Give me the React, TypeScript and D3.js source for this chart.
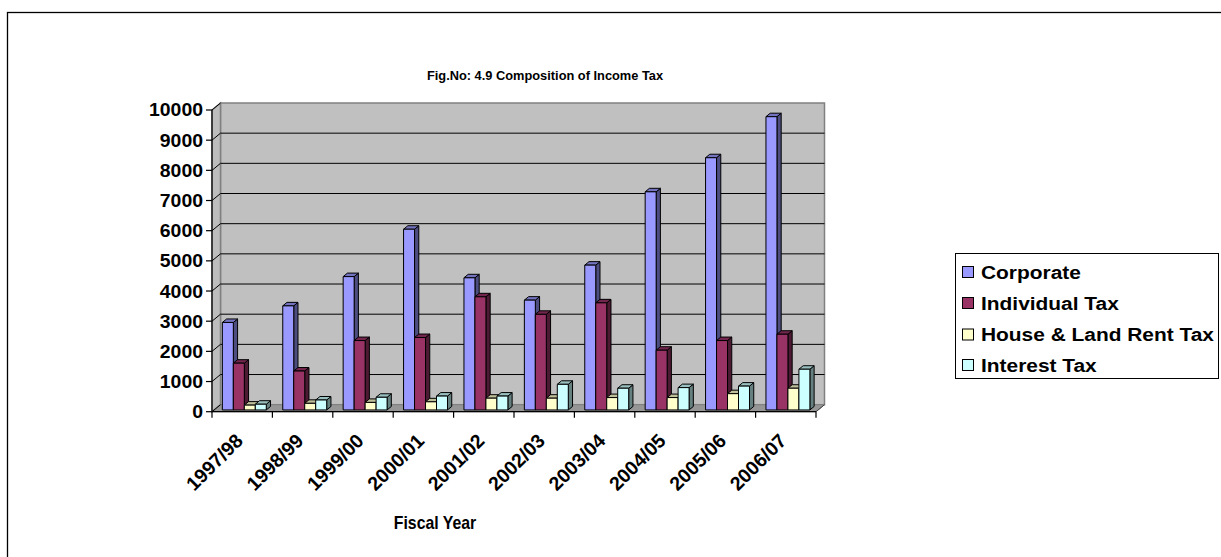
import React from "react";
import * as d3 from "d3";

const years = ["1997/98", "1998/99", "1999/00", "2000/01", "2001/02", "2002/03", "2003/04", "2004/05", "2005/06", "2006/07"];
const corporate = [2900, 3450, 4420, 5990, 4380, 3640, 4800, 7230, 8360, 9720];
const individualTax = [1550, 1290, 2300, 2400, 3750, 3170, 3550, 1980, 2300, 2510];
const houseLandRentTax = [160, 220, 250, 270, 390, 390, 410, 410, 540, 720];
const interestTax = [190, 330, 420, 460, 460, 850, 720, 740, 790, 1350];
const seriesNames = ["Corporate", "Individual Tax", "House & Land Rent Tax", "Interest Tax"];
const seriesColors = ["#9999FF", "#993366", "#FFFFCC", "#CCFFFF"];
const yTicks = [0, 1000, 2000, 3000, 4000, 5000, 6000, 7000, 8000, 9000, 10000];
const title = "Fig.No: 4.9 Composition of Income Tax";
const xTitle = "Fiscal Year";

const FONT = "'Liberation Sans', Arial, Helvetica, sans-serif";

export default function App() {
  const series = [corporate, individualTax, houseLandRentTax, interestTax];
  const left = 212, right = 816, base = 411.7, top = 110;
  const DX = 8.5, DY = -7;
  const y = d3.scaleLinear().domain([0, 10000]).range([base, top]);
  const x0 = d3.scaleBand().domain(years).range([left, right]).paddingInner(0).paddingOuter(0);
  const bw = x0.bandwidth();
  const gap = (bw * 1.5) / 5.5 / 2;
  const x1 = d3.scaleBand().domain(seriesNames).range([gap, bw - gap]);
  const w = x1.bandwidth();
  const fx = DX * 0.25, fy = DY * 0.25;
  const ddx = DX * 0.5, ddy = DY * 0.5;

  const shade = (c: string, k: number) => {
    const r = d3.rgb(c);
    return d3.rgb(r.r * k, r.g * k, r.b * k).formatHex();
  };

  const bars: React.ReactNode[] = [];
  years.forEach((yr, i) => {
    series.forEach((vals, s) => {
      const v = vals[i];
      const bx = (x0(yr) as number) + (x1(seriesNames[s]) as number) + fx;
      const by = y(v) + fy;
      const bb = y(0) + fy;
      const col = seriesColors[s];
      bars.push(
        <g key={`${i}-${s}`} stroke="#000" strokeWidth={1} strokeLinejoin="round">
          <polygon points={`${bx + w},${by} ${bx + w + ddx},${by + ddy} ${bx + w + ddx},${bb + ddy} ${bx + w},${bb}`} fill={shade(col, 0.5)} />
          <polygon points={`${bx},${by} ${bx + w},${by} ${bx + w + ddx},${by + ddy} ${bx + ddx},${by + ddy}`} fill={shade(col, 0.75)} />
          <rect x={bx} y={by} width={w} height={bb - by} fill={col} />
        </g>
      );
    });
  });

  const legendRows = [272, 303, 334.5, 365];

  return (
    <svg width={1221} height={557} style={{ position: "absolute", left: 0, top: 0, background: "#fff" }} fontFamily={FONT}>
      <rect x={7.5} y={12.5} width={1240} height={570} fill="#fff" stroke="#000" strokeWidth={1.3} />
      <text transform="translate(545,80) scale(0.95,1)" textAnchor="middle" fontSize={13.5} fontWeight="bold">{title}</text>

      <rect x={left + DX} y={top + DY} width={right - left} height={base - top} fill="#C0C0C0" stroke="#808080" strokeWidth={1.5} />
      <polygon points={`${left},${top} ${left + DX},${top + DY} ${left + DX},${base + DY} ${left},${base}`} fill="#BDBDBD" stroke="#808080" strokeWidth={1.5} />
      <polygon points={`${left},${base} ${right},${base} ${right + DX},${base + DY} ${left + DX},${base + DY}`} fill="#969696" stroke="#808080" strokeWidth={1} />

      {yTicks.filter(t => t > 0 && t < 10000).map(t => (
        <line key={`g${t}`} x1={left + DX} x2={right + DX} y1={y(t) + DY} y2={y(t) + DY} stroke="#000" strokeWidth={1} />
      ))}
      {yTicks.map(t => (
        <line key={`d${t}`} x1={left} x2={left + DX} y1={y(t)} y2={y(t) + DY} stroke="#000" strokeWidth={1} />
      ))}

      {bars}

      <line x1={left} x2={left} y1={top} y2={base} stroke="#000" strokeWidth={1.2} />
      <line x1={left} x2={right} y1={base} y2={base} stroke="#000" strokeWidth={1.2} />
      <line x1={right} x2={right + DX} y1={base} y2={base + DY} stroke="#404040" strokeWidth={1} />
      {yTicks.map(t => (
        <g key={`yt${t}`}>
          <line x1={left - 6} x2={left} y1={y(t)} y2={y(t)} stroke="#000" strokeWidth={1.2} />
          <text transform={`translate(203,${y(t)}) scale(1.08,1)`} textAnchor="end" dy="0.36em" fontSize={18} fontWeight="bold">{t}</text>
        </g>
      ))}
      {d3.range(years.length + 1).map(i => {
        const xx = left + i * bw;
        return <line key={`xt${i}`} x1={xx} x2={xx} y1={base} y2={base + 6} stroke="#000" strokeWidth={1.2} />;
      })}
      {years.map(yr => {
        const cx = (x0(yr) as number) + bw / 2;
        return (
          <text key={`xl${yr}`} transform={`translate(${cx + 2},${442}) rotate(-45)`} textAnchor="end" fontSize={19.5} fontWeight="bold">{yr}</text>
        );
      })}
      <text transform={`translate(435,529) scale(0.88,1)`} textAnchor="middle" fontSize={18} fontWeight="bold">{xTitle}</text>

      <rect x={955.5} y={253.5} width={263} height={125} fill="#fff" stroke="#000" strokeWidth={1} />
      {seriesNames.map((n, i) => (
        <g key={`lg${i}`}>
          <rect x={962.5} y={legendRows[i] - 5.5} width={11} height={11} fill={seriesColors[i]} stroke="#000" strokeWidth={1} />
          <text transform={`translate(981,${legendRows[i]}) scale(1.1,1)`} dy="0.36em" fontSize={19} fontWeight="bold">{n}</text>
        </g>
      ))}
    </svg>
  );
}
